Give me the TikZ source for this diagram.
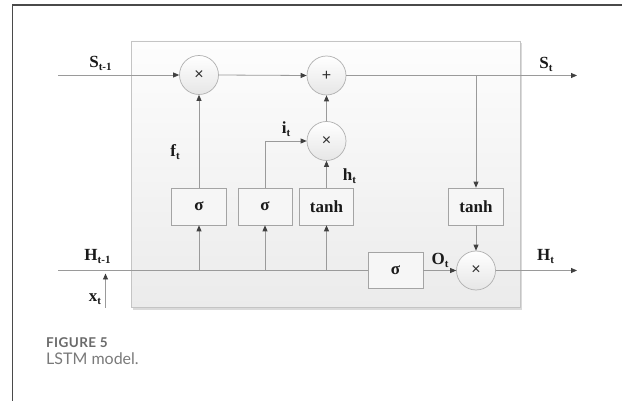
\documentclass[tikz,border=0pt]{standalone}
\usepackage{fontspec}
\setmainfont{Liberation Serif}
\newfontfamily\capfont{Lato}
\newfontfamily\capfontsp[LetterSpace=3]{Lato}
\newfontfamily\opfont{Liberation Sans}
\usetikzlibrary{arrows.meta}

\definecolor{framecol}{HTML}{4A4A4A}
\definecolor{wirecol}{HTML}{9A9A9A}
\definecolor{tipcol}{HTML}{404040}
\definecolor{circcol}{HTML}{B0B0B0}
\definecolor{circbot}{HTML}{E6E6E6}
\definecolor{boxcol}{HTML}{A4A4A4}
\definecolor{boxfill}{HTML}{F6F6F6}
\definecolor{cellTop}{HTML}{FDFDFD}
\definecolor{cellBot}{HTML}{EBEBEB}
\definecolor{cellEdge}{HTML}{C4C4C4}
\definecolor{shadowcol}{HTML}{DADADA}
\definecolor{opcol}{HTML}{303030}
\definecolor{figgray}{HTML}{6A6A6A}
\definecolor{capgray}{HTML}{7A7A7A}
\definecolor{lblcol}{HTML}{1A1A1A}

% letter with a lowered subscript
\newcommand{\lsub}[2]{#1\raisebox{-3pt}{\fontsize{11}{11}\selectfont #2}}

\begin{document}
\begin{tikzpicture}[x=1pt,y=-1pt,
  wire/.style={draw=wirecol, line width=0.8pt},
  arr/.style={wire, -{Triangle[length=6pt,width=5pt,color=tipcol]}},
  opnode/.style={circle, draw=circcol, line width=0.7pt, top color=white,
    bottom color=circbot, minimum size=39pt, inner sep=0pt,
    font=\opfont\fontsize{16}{16}\selectfont, text=opcol},
  fbox/.style={rectangle, draw=boxcol, line width=0.7pt, fill=boxfill,
    minimum width=55pt, minimum height=37pt, inner sep=0pt, text=lblcol,
    font=\fontsize{17}{17}\selectfont\bfseries},
  lbl/.style={anchor=base, inner sep=0pt, text=lblcol,
    font=\fontsize{17}{17}\selectfont\bfseries}]

\useasboundingbox (0,0) rectangle (622,401);
\fill[white] (0,0) rectangle (622,401);
\draw[framecol, line width=1.2pt] (12.5,402) -- (12.5,5) -- (623,5);

% cell body
\fill[shadowcol] (133,43) rectangle (522,309.5);
\path[top color=cellTop, bottom color=cellBot, draw=cellEdge, line width=0.8pt]
  (131.5,41) rectangle (520.5,307.5);

% operators
\node[opnode] (m1)  at (199,75)     {×};
\node[opnode] (add) at (326.5,75.5) {+};
\node[opnode] (m2)  at (326.5,141)  {×};
\node[opnode] (m3)  at (476,270.5)  {×};

% gates
\node[fbox] (s1) at (199,206.5) {σ};
\node[fbox, minimum width=54pt] (s2) at (265,206.5) {σ};
\node[fbox, minimum width=54pt] (t1) at (326.5,206.5) {tanh};
\node[fbox] (t2) at (476,206.5) {tanh};
\node[fbox, minimum height=36pt] (s3) at (395.5,270.5) {σ};

% free ends
\coordinate (sin)  at (58,75);
\coordinate (sout) at (577,75.5);
\coordinate (sbr)  at (476,75.5);
\coordinate (hin)  at (58,270.5);
\coordinate (hout) at (577,270.5);
\coordinate (xin)  at (105.5,307.5);
\coordinate (xtip) at (105.5,273.5);

% cell state path
\draw[arr] (sin) -- (m1.west);
\draw[arr] (m1.east) -- (add.west);
\draw[arr] (add.east) -- (sout);
\draw[arr] (sbr) -- (t2.north);
\draw[arr] (t2.south) -- (m3.north);

% gate outputs
\draw[arr] (s1.north) -- (m1.south);
\draw[arr] (s2.north) |- (m2.west);
\draw[arr] (t1.north) -- (m2.south);
\draw[arr] (m2.north) -- (add.south);

% hidden state path
\draw[wire] (hin) -- (s3.west);
\draw[arr] (s1.south |- hin) -- (s1.south);
\draw[arr] (s2.south |- hin) -- (s2.south);
\draw[arr] (t1.south |- hin) -- (t1.south);
\draw[arr] (s3.east) -- (m3.west);
\draw[arr] (m3.east) -- (hout);
\draw[arr] (xin) -- (xtip);

% labels
\node[lbl] (lSin)  at (100.5,68)  {\lsub{S}{t-1}};
\node[lbl] (lSout) at (546,69)    {\lsub{S}{t}};
\node[lbl] (lf)    at (175,157)   {\lsub{f}{t}};
\node[lbl] (li)    at (286,134)   {\lsub{i}{t}};
\node[lbl] (lh)    at (349.5,181) {\lsub{h}{t}};
\node[lbl] (lo)    at (440,265)   {\lsub{O}{t}};
\node[lbl] (lHin)  at (97.5,261)  {\lsub{H}{t-1}};
\node[lbl] (lx)    at (95,301.5)  {\lsub{x}{t}};
\node[lbl] (lHout) at (545.5,261) {\lsub{H}{t}};

% caption
\node[anchor=base west, inner sep=0pt, text=figgray,
  font=\capfontsp\bfseries\fontsize{13.5}{13.5}\selectfont] (fig) at (46,347.3) {FIGURE 5};
\node[anchor=base west, inner sep=0pt, text=capgray,
  font=\capfont\fontsize{16}{16}\selectfont] (cap) at (46,364.3) {LSTM model.};
\end{tikzpicture}
\end{document}
